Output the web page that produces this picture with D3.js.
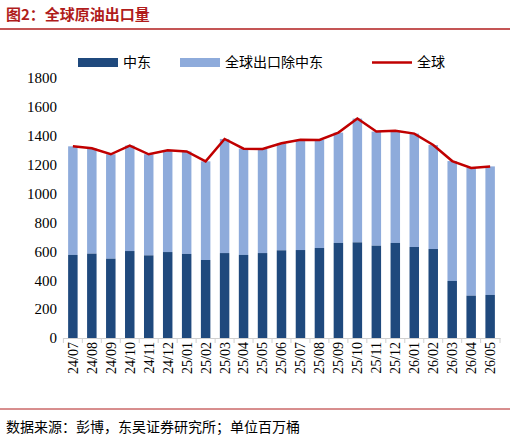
<!DOCTYPE html><html><head><meta charset="utf-8"><script src="https://cdn.jsdelivr.net/npm/d3@7"></script>
<style>body{margin:0;background:#fff;font-family:"Noto Sans CJK SC",sans-serif}</style></head><body><svg id="c" width="510" height="444"></svg><script>
const categories=["24/07","24/08","24/09","24/10","24/11","24/12","25/01","25/02","25/03","25/04","25/05","25/06","25/07","25/08","25/09","25/10","25/11","25/12","26/01","26/02","26/03","26/04","26/05"];
const middleEast=[575,584,549,602,572,595,582,540,588,575,588,607,609,623,658,662,639,658,630,616,395,293,298];
const total=[1327,1313,1272,1332,1272,1299,1292,1223,1378,1311,1309,1348,1373,1371,1422,1519,1429,1435,1415,1336,1225,1177,1188];
const yTicks=[0,200,400,600,800,1000,1200,1400,1600,1800];
const svg=d3.select("#c");
const L=63,R=500,T=78,B=338;
svg.append("text").attr("x",6).attr("y",20).attr("font-size",15).attr("font-weight","bold").attr("fill","#b01c1c").text("图2：全球原油出口量");
svg.append("line").attr("x1",0).attr("x2",510).attr("y1",29).attr("y2",29).attr("stroke","#b01c1c").attr("stroke-width",1.5);
const x=d3.scaleBand().domain(categories).range([L,R]).paddingInner(0.5).paddingOuter(0.27);
const y=d3.scaleLinear().domain([0,1800]).range([B,T]);
const ya=svg.append("g").attr("transform",`translate(${L},0)`).call(d3.axisLeft(y).tickValues(yTicks).tickFormat(d3.format("d")).tickSize(0).tickPadding(6));
ya.select(".domain").remove();ya.selectAll("text").attr("font-size",15).attr("font-family","Liberation Serif, serif").attr("fill","#000");
categories.forEach((c,i)=>{
 svg.append("rect").attr("x",x(c)).attr("width",x.bandwidth()).attr("y",y(total[i])).attr("height",y(middleEast[i])-y(total[i])).attr("fill","#8eabdb");
 svg.append("rect").attr("x",x(c)).attr("width",x.bandwidth()).attr("y",y(middleEast[i])).attr("height",B-y(middleEast[i])).attr("fill","#1f497d");
});
svg.append("path").datum(total).attr("fill","none").attr("stroke","#c00000").attr("stroke-width",2.5)
 .attr("d",d3.line().x((d,i)=>x(categories[i])+x.bandwidth()/2).y(d=>y(d)));
const xa=svg.append("g").attr("transform",`translate(0,${B})`).call(d3.axisBottom(x).tickSize(0).tickPadding(4));
xa.select(".domain").attr("stroke","#d0d0d0");
const step=x.step();
categories.forEach((c,i)=>{const xx=x(c)+x.bandwidth()/2-step/2;svg.append("line").attr("x1",xx).attr("x2",xx).attr("y1",B).attr("y2",B+5).attr("stroke","#d0d0d0");});
svg.append("line").attr("x1",R).attr("x2",R).attr("y1",B).attr("y2",B+5).attr("stroke","#d0d0d0");
xa.selectAll("text").attr("font-size",14).attr("font-family","Liberation Serif, serif").attr("fill","#000")
 .attr("transform","rotate(-90)").attr("text-anchor","end").attr("dx","-4").attr("x",0).attr("y",0).attr("dy","0.35em");
const lg=svg.append("g").attr("font-size",14).attr("fill","#000");
lg.append("rect").attr("x",78).attr("y",58).attr("width",40).attr("height",9).attr("fill","#1f497d");
lg.append("text").attr("x",123).attr("y",67).text("中东");
lg.append("rect").attr("x",180).attr("y",58).attr("width",40).attr("height",9).attr("fill","#8eabdb");
lg.append("text").attr("x",225).attr("y",67).text("全球出口除中东");
lg.append("line").attr("x1",372).attr("x2",412).attr("y1",62.5).attr("y2",62.5).attr("stroke","#c00000").attr("stroke-width",2.5);
lg.append("text").attr("x",417).attr("y",67).text("全球");
svg.append("line").attr("x1",0).attr("x2",510).attr("y1",409).attr("y2",409).attr("stroke","#b01c1c").attr("stroke-width",1);
svg.append("text").attr("x",6).attr("y",432).attr("font-size",14).text("数据来源：彭博，东吴证券研究所；单位百万桶");
</script></body></html>
